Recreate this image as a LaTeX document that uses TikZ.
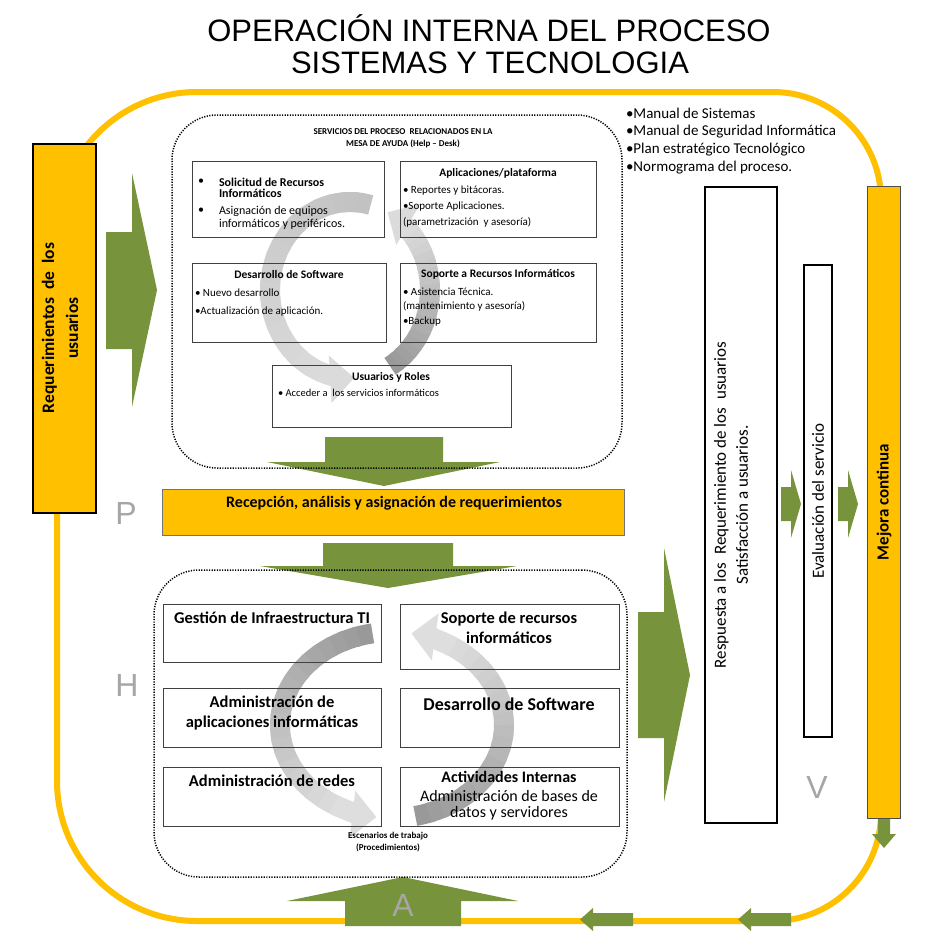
\documentclass[tikz,border=0pt]{standalone}
\usepackage{fontspec}
\setmainfont{Carlito}
\newfontfamily\arialf{Liberation Sans}
\usetikzlibrary{arrows.meta}
\definecolor{gold}{HTML}{FFC000}
\definecolor{olive}{HTML}{77933C}
\definecolor{lgray}{HTML}{A6A6A6}
\newcommand{\fs}[2]{\fontsize{#1}{#2}\selectfont}
% gradient circular arrow: cx cy rx ry start tip shadeStart shadeEnd
\newcommand{\garc}[8]{%
  \pgfmathsetmacro{\gHb}{#6-sign(#6-#5)*16}%
  \foreach \k in {0,...,19}{%
    \pgfmathsetmacro{\gA}{#5+(\gHb-#5)*\k/20}%
    \pgfmathsetmacro{\gB}{#5+(\gHb-#5)*(\k+1.3)/20}%
    \pgfmathsetmacro{\gS}{#7+(#8-#7)*\k/19}%
    \draw[line width=20pt,color=black!\gS] (#1,#2) ++(\gA:#3 and #4) arc[start angle=\gA,end angle=\gB,x radius=#3,y radius=#4];
  }%
  \pgfmathsetmacro{\gHs}{#6-sign(#6-#5)*22}%
  \draw[line width=20pt,color=black!#8,-{Triangle[length=24pt,width=46pt]}] (#1,#2) ++(\gHs:#3 and #4) arc[start angle=\gHs,end angle=#6,x radius=#3,y radius=#4];
}
% box from corners: [style]{name}{x1}{y1}{x2}{y2}
\newcommand{\bx}[6][]{%
  \pgfmathsetmacro{\bxw}{#5-#3}\pgfmathsetmacro{\bxh}{#6-#4}%
  \node[#1,minimum width=\bxw pt,minimum height=\bxh pt,inner sep=0pt,outer sep=0pt] (#2) at ({(#3+#5)/2},{(#4+#6)/2}) {};
}
\begin{document}
\begin{tikzpicture}[x=1pt,y=-1pt,
  txt/.style={inner sep=0pt,outer sep=0pt},
  boxs/.style={draw=black!75,line width=0.9pt},
  dotbox/.style={draw=black,line width=1.5pt,dash pattern=on 1.2pt off 1.4pt,rounded corners=45pt},
  loopline/.style={draw=gold,line width=6pt},
  grn/.style={fill=olive},
  letter/.style={txt,text=lgray,font=\arialf\fs{32}{34}},
]
\useasboundingbox (0,0) rectangle (935,940);
\fill[white] (0,0) rectangle (935,940);

% title
\node[txt,anchor=base,font=\arialf\fs{31}{32}] (t1) at (489,41) {OPERACIÓN INTERNA DEL PROCESO};
\node[txt,anchor=base,font=\arialf\fs{31}{32}] (t2) at (490,73) {SISTEMAS Y TECNOLOGIA};

% loop
\draw[loopline] (57,232) .. controls (57,154.7) and (119.7,92) .. (197,92) -- (773,92)
  .. controls (832.6,92) and (881,140.4) .. (881,200) -- (881,813)
  .. controls (881,872.6) and (832.6,921) .. (773,921) -- (197,921)
  .. controls (119.7,921) and (57,858.3) .. (57,781) -- cycle;

% green block arrows
\fill[grn] (106,232) -- (132,232) -- (132,173) -- (157,290) -- (132,407) -- (132,349) -- (106,349) -- cycle;
\fill[grn] (325,437) -- (443,437) -- (443,462) -- (500,462) -- (384,486) -- (267,462) -- (325,462) -- cycle;
\fill[grn] (323,543) -- (453,543) -- (453,566) -- (517,566) -- (388,588) -- (260,566) -- (323,566) -- cycle;
\fill[grn] (638,612) -- (664,612) -- (664,548) -- (690,675) -- (664,802) -- (664,738) -- (638,738) -- cycle;
\fill[grn] (781,487) -- (791,487) -- (791,470) -- (801,504) -- (791,538) -- (791,521) -- (781,521) -- cycle;
\fill[grn] (838,487) -- (848,487) -- (848,470) -- (858,504) -- (848,538) -- (848,521) -- (838,521) -- cycle;
\fill[grn] (878,818) -- (890,818) -- (890,834) -- (896,834) -- (884,848) -- (872,834) -- (878,834) -- cycle;
\fill[grn] (345,926) -- (345,901) -- (287,901) -- (403,877) -- (518,901) -- (461,901) -- (461,926) -- cycle;
\fill[grn] (633,913) -- (593,913) -- (593,908) -- (580,919.5) -- (593,931) -- (593,926) -- (633,926) -- cycle;
\fill[grn] (791,913) -- (751,913) -- (751,908) -- (738,919.5) -- (751,931) -- (751,926) -- (791,926) -- cycle;

% dotted groups
\bx[dotbox]{topbox}{172}{115}{622}{468}
\bx[dotbox]{lowbox}{154}{570}{627}{877}

% circular gray arrows
\garc{350}{290}{80}{88}{-75}{-273}{24}{14}
\garc{350}{290}{80}{88}{60}{-62}{40}{14}
\garc{392}{725}{112}{93}{-100}{-262}{40}{13}
\garc{392}{725}{112}{93}{78}{-80}{40}{13}

% left and right column boxes
\bx[draw=black,fill=gold,line width=2pt]{req}{33}{144}{96}{513}
\bx[draw=black,fill=white,line width=2pt]{resp}{705}{187}{777}{823}
\bx[draw=black,fill=white,line width=2pt]{eval}{804}{265}{832}{737}
\bx[draw=black!70,fill=gold,line width=1pt]{mej}{867}{186}{900}{818}
\bx[draw=black!55,fill=gold,line width=1pt]{recep}{162}{489}{624}{535}

% top services boxes
\bx[boxs]{sol}{192}{161}{384}{237}
\bx[boxs]{app}{400}{161}{596}{237}
\bx[boxs]{des}{192}{263}{386}{342}
\bx[boxs]{sop}{400}{263}{596}{342}
\bx[boxs]{usu}{272}{365}{511}{427}

% lower boxes
\bx[boxs]{gest}{163}{604}{381}{662}
\bx[boxs]{sopr}{400}{604}{619}{669}
\bx[boxs]{adm}{163}{688}{381}{747}
\bx[boxs]{desw}{400}{688}{619}{747}
\bx[boxs]{red}{163}{767}{381}{826}
\bx[boxs]{act}{400}{767}{619}{826}

% texts top group
\node[txt,align=center,font=\fs{9}{11.5}\bfseries] (hdr) at (403,138.5) {SERVICIOS DEL PROCESO~ RELACIONADOS EN LA\\MESA DE AYUDA (Help – Desk)};
\node[txt,font=\fs{12}{12}] (b1) at (201,182) {•};
\node[txt,font=\fs{12}{12}] (b2) at (201,211) {•};
\node[txt,anchor=west,align=left,font=\fs{12}{11.5}\bfseries] (solt) at (219,188) {Solicitud de Recursos\\Informáticos};
\node[txt,anchor=west,align=left,font=\fs{12}{13}] (solb) at (219,218) {Asignación de equipos\\informáticos y periféricos.};
\node[txt,font=\fs{11.5}{12}\bfseries] (appt) at (498,173) {Aplicaciones/plataforma};
\node[txt,anchor=west,font=\fs{11}{12}] (app1) at (403,191) {• Reportes y bitácoras.};
\node[txt,anchor=west,font=\fs{11}{12}] (app2) at (403,207) {•Soporte Aplicaciones.};
\node[txt,anchor=west,font=\fs{11}{12}] (app3) at (403,222) {(parametrización~ y asesoría)};
\node[txt,font=\fs{11.5}{12}\bfseries] (dest) at (289,275) {Desarrollo de Software};
\node[txt,anchor=west,font=\fs{11}{12}] (des1) at (195,293) {• Nuevo desarrollo};
\node[txt,anchor=west,font=\fs{11}{12}] (des2) at (195,312) {•Actualización de aplicación.};
\node[txt,font=\fs{11.5}{12}\bfseries] (sopt) at (498,274) {Soporte a Recursos Informáticos};
\node[txt,anchor=west,font=\fs{11}{12}] (sop1) at (403,292) {• Asistencia Técnica.};
\node[txt,anchor=west,font=\fs{11}{12}] (sop2) at (403,306) {(mantenimiento y asesoría)};
\node[txt,anchor=west,font=\fs{11}{12}] (sop3) at (403,322) {•Backup};
\node[txt,font=\fs{11.5}{12}\bfseries] (usut) at (391,377) {Usuarios y Roles};
\node[txt,anchor=west,font=\fs{10.5}{12}] (usu1) at (278,393) {• Acceder a~ los servicios informáticos};

% recepcion
\node[txt,font=\fs{16}{18}\bfseries] (rect) at (394,503) {Recepción, análisis y asignación de requerimientos};

% lower texts
\node[txt,font=\fs{16.5}{20}\bfseries] (gestt) at (272,618) {Gestión de Infraestructura TI};
\node[txt,align=center,font=\fs{16.5}{20}\bfseries] (soprt) at (509,628) {Soporte de recursos\\informáticos};
\node[txt,align=center,font=\fs{16.5}{20}\bfseries] (admt) at (272,713) {Administración de\\aplicaciones informáticas};
\node[txt,font=\fs{18}{20}\bfseries] (deswt) at (509,704) {Desarrollo de Software};
\node[txt,font=\fs{16.5}{20}\bfseries] (redt) at (272,781) {Administración de redes};
\node[txt,font=\fs{16}{18}\bfseries] (actt) at (509,777) {Actividades Internas};
\node[txt,align=center,font=\fs{16}{15.5}] (actb) at (509,805) {Administración de bases de\\datos y servidores};
\node[txt,align=center,font=\fs{9}{12}\bfseries] (esc) at (388,842) {Escenarios de trabajo\\(Procedimientos)};

% reference list
\node[txt,anchor=west,font=\fs{15}{18}] (m1) at (626,113) {•Manual de Sistemas};
\node[txt,anchor=west,font=\fs{15}{18}] (m2) at (626,132) {•Manual de Seguridad Informática};
\node[txt,anchor=west,font=\fs{15}{18}] (m3) at (626,150) {•Plan estratégico Tecnológico};
\node[txt,anchor=west,font=\fs{15}{18}] (m4) at (626,168) {•Normograma del proceso.};

% rotated texts
\node[txt,rotate=90,align=center,font=\fs{17.5}{24}\bfseries] (reqt) at (60,328) {Requerimientos~ de~ los\\usuarios};
\node[txt,rotate=90,align=center,font=\fs{17}{22}] (respt) at (731,505) {Respuesta a los~ Requerimiento de los~ usuarios\\Satisfacción a usuarios.};
\node[txt,rotate=90,font=\fs{17}{20}] (evalt) at (818,501) {Evaluación del servicio};
\node[txt,rotate=90,font=\fs{17}{20}\bfseries] (mejt) at (884,502) {Mejora continua};

% PHVA letters
\node[letter] (P) at (126,513) {P};
\node[letter] (H) at (127,685) {H};
\node[letter] (V) at (817,787) {V};
\node[letter] (A) at (403,905) {A};
\end{tikzpicture}
\end{document}
